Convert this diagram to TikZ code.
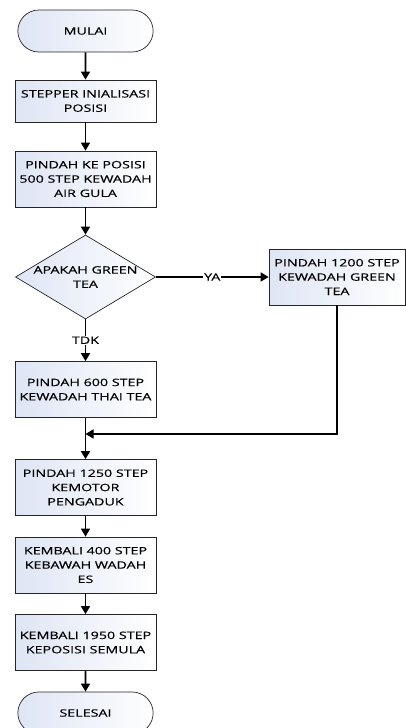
\documentclass[tikz,border=0pt]{standalone}
\usepackage{fontspec}
\setmainfont{Open Sans}[FakeStretch=1.4, FakeBold=0.4]
\usetikzlibrary{shapes.geometric, shapes.misc, arrows.meta, positioning}

\definecolor{isian}{RGB}{222,229,244}

\tikzset{
  dasar/.style={draw=black!85, line width=0.7pt, left color=isian, right color=white,
    align=center, font=\fontsize{10.2pt}{14.3pt}\selectfont},
  proses/.style={dasar, rectangle, minimum width=141pt, minimum height=56pt, inner sep=2pt},
  terminal/.style={dasar, rounded rectangle, minimum width=142pt, minimum height=42pt},
  keputusan/.style={dasar, diamond, aspect=1.67, inner sep=0pt, minimum width=140pt, minimum height=84pt},
  alur/.style={line width=1.6pt, -{Triangle[width=9pt,length=8pt]}},
  garis/.style={line width=1.6pt},
  ket/.style={fill=white, inner sep=1pt, font=\fontsize{10.2pt}{12pt}\selectfont}
}

\begin{document}
\begin{tikzpicture}[x=1pt, y=-1pt]
  \useasboundingbox (0,0) rectangle (406,728);
  \clip (0,0) rectangle (406,728);
  % langkah-langkah
  \node[terminal] (mulai) at (85.5,31) {MULAI};
  \node[proses, minimum height=42pt] (init) at (85.5,101) {STEPPER INIALISASI\\POSISI};
  \node[proses] (gula) at (85.5,179) {PINDAH KE POSISI\\500 STEP KEWADAH\\AIR GULA};
  \node[keputusan] (cek) at (85.5,277) {APAKAH GREEN\\TEA};
  \node[proses, minimum width=136pt] (green) at (337,277) {PINDAH 1200 STEP\\KEWADAH GREEN\\TEA};
  \node[proses] (thai) at (85.5,389.5) {PINDAH 600 STEP\\KEWADAH THAI TEA};
  \coordinate (gabung) at (85.5,434);
  \node[proses] (motor) at (85.5,487.5) {PINDAH 1250 STEP\\KEMOTOR\\PENGADUK};
  \node[proses] (es) at (85.5,565) {KEMBALI 400 STEP\\KEBAWAH WADAH\\ES};
  \node[proses] (semula) at (85.5,642.5) {KEMBALI 1950 STEP\\KEPOSISI SEMULA};
  \node[terminal] (selesai) at (85.5,713) {SELESAI};
  % panah
  \draw[alur] (mulai) -- (init);
  \draw[alur] (init) -- (gula);
  \draw[alur] (gula) -- (cek);
  \draw[alur] (cek.east) -- node[ket] {YA} (green.west);
  \draw[alur] (cek.south) -- node[ket] {TDK} (thai.north);
  \draw[alur] (green.south) |- (gabung);
  \draw[alur] (thai) -- (motor);
  \draw[alur] (motor) -- (es);
  \draw[alur] (es) -- (semula);
  \draw[alur] (semula) -- (selesai);
\end{tikzpicture}
\end{document}
